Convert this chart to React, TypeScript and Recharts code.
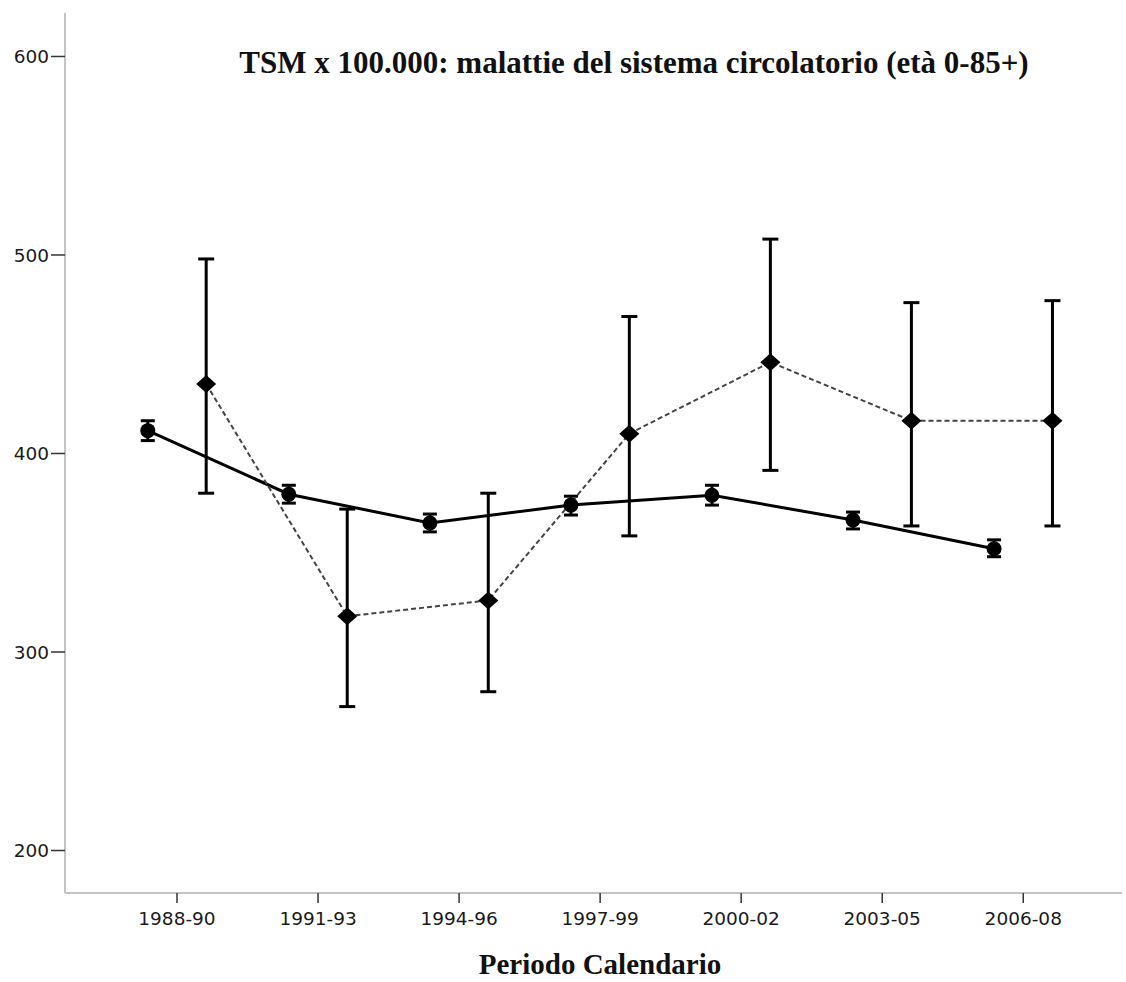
import React from 'react';
import { LineChart, Line, XAxis, YAxis, ErrorBar } from 'recharts';

const periods = ['1988-90', '1991-93', '1994-96', '1997-99', '2000-02', '2003-05', '2006-08'];
const yTicks = [200, 300, 400, 500, 600];

// Solid series (circles)
const circleMean = [411.5, 379.5, 365, 374, 379, 366.5, 352];
const circleLow = [406.5, 375, 360.5, 369, 374, 362, 348];
const circleHigh = [416.5, 384, 369.5, 378.5, 384, 370.5, 356.5];

// Dashed series (diamonds)
const diamondMean = [435, 318, 326, 410, 446, 416.5, 416.5];
const diamondLow = [380, 272.5, 280, 358.5, 391.5, 363.5, 363.5];
const diamondHigh = [498, 372, 380, 469, 508, 476, 477];

const title = 'TSM x 100.000: malattie del sistema circolatorio (età 0-85+)';
const xTitle = 'Periodo Calendario';

const OFFSET = 0.207;

const circleData = periods.map((p, i) => ({
  x: i - OFFSET,
  period: p,
  v: circleMean[i],
  err: [circleMean[i] - circleLow[i], circleHigh[i] - circleMean[i]],
}));

const diamondData = periods.map((p, i) => ({
  x: i + OFFSET,
  period: p,
  v: diamondMean[i],
  err: [diamondMean[i] - diamondLow[i], diamondHigh[i] - diamondMean[i]],
}));

const tickStyle = { fontFamily: 'DejaVu Sans', fontSize: 18.5, fill: '#1a1a1a' };

const CircleDot = (props: any) => {
  const { cx, cy, index } = props;
  if (cx == null || cy == null) return null;
  return <circle key={`c-${index}`} cx={cx} cy={cy} r={7.5} fill="#000" />;
};

const DiamondDot = (props: any) => {
  const { cx, cy, index } = props;
  if (cx == null || cy == null) return null;
  const w = 10;
  const h = 9;
  return (
    <polygon
      key={`d-${index}`}
      points={`${cx},${cy - h} ${cx + w},${cy} ${cx},${cy + h} ${cx - w},${cy}`}
      fill="#000"
    />
  );
};

export default function App() {
  return (
    <div style={{ position: 'absolute', left: 0, top: 0, width: 1126, height: 982, background: '#fff' }}>
      <LineChart
        width={1126}
        height={982}
        margin={{ top: 13, right: 4, bottom: 29, left: 0 }}
      >
        <XAxis
          type="number"
          dataKey="x"
          domain={[-0.794, 6.7]}
          allowDataOverflow
          ticks={[0, 1, 2, 3, 4, 5, 6]}
          interval={0}
          tickFormatter={(v: number) => periods[Math.round(v)] ?? ''}
          axisLine={{ stroke: '#c4c4c4', strokeWidth: 2 }}
          tickLine={{ stroke: '#333', strokeWidth: 1.5 }}
          tickSize={10}
          tickMargin={9}
          tick={tickStyle}
          height={60}
        />
        <YAxis
          type="number"
          domain={[178.6, 621.9]}
          allowDataOverflow
          ticks={yTicks}
          interval={0}
          axisLine={{ stroke: '#c4c4c4', strokeWidth: 2 }}
          tickLine={{ stroke: '#333', strokeWidth: 1.5 }}
          tickSize={14}
          tickMargin={2}
          tick={tickStyle}
          width={65}
        />
        <Line
          data={circleData}
          dataKey="v"
          type="linear"
          stroke="#000"
          strokeWidth={3}
          dot={CircleDot}
          activeDot={false}
          isAnimationActive={false}
        >
          <ErrorBar dataKey="err" direction="y" width={7} stroke="#000" strokeWidth={3} isAnimationActive={false} />
        </Line>
        <Line
          data={diamondData}
          dataKey="v"
          type="linear"
          stroke="#444"
          strokeWidth={2}
          strokeDasharray="5 3"
          dot={DiamondDot}
          activeDot={false}
          isAnimationActive={false}
        >
          <ErrorBar dataKey="err" direction="y" width={8} stroke="#000" strokeWidth={3} isAnimationActive={false} />
        </Line>
      </LineChart>
      <svg
        width={1126}
        height={982}
        style={{ position: 'absolute', left: 0, top: 0, pointerEvents: 'none' }}
      >
        <text
          x={634}
          y={73}
          textAnchor="middle"
          fontFamily="'Liberation Serif', serif"
          fontWeight="bold"
          fontSize={31}
          fill="#111"
        >
          {title}
        </text>
        <text
          x={600}
          y={974}
          textAnchor="middle"
          fontFamily="'Liberation Serif', serif"
          fontWeight="bold"
          fontSize={29}
          fill="#111"
        >
          {xTitle}
        </text>
      </svg>
    </div>
  );
}
